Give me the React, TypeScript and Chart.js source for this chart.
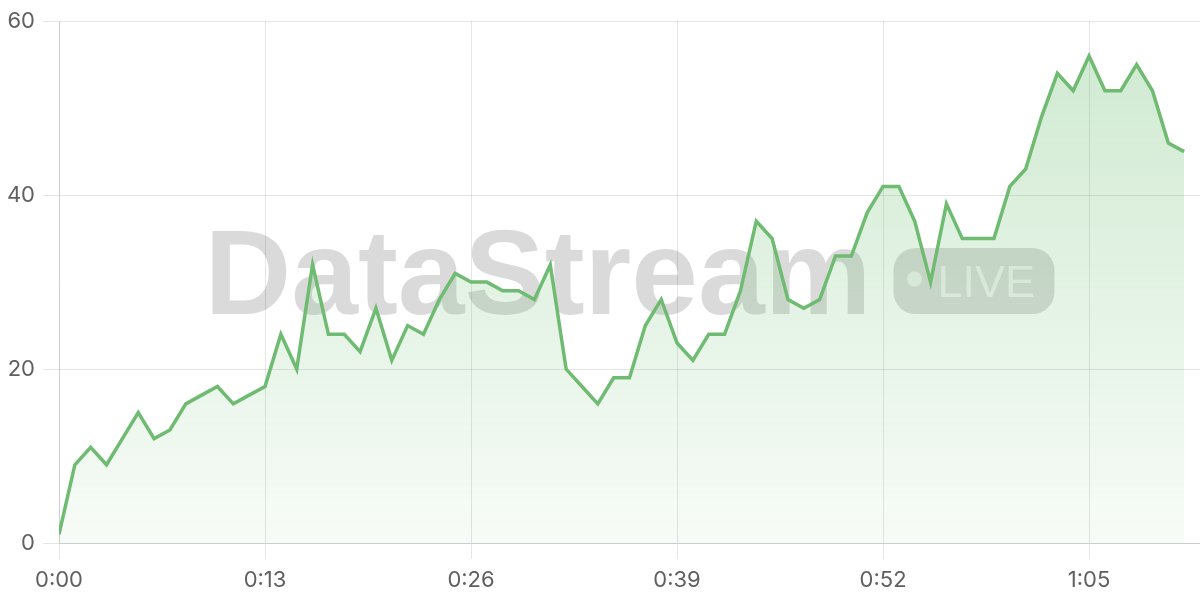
import React, { useEffect, useRef } from 'react';
import { Chart, registerables } from 'chart.js';

Chart.register(...registerables);

// ---- data ----
const elapsedSeconds = [
  0, 1, 2, 3, 4, 5, 6, 7, 8, 9, 10, 11, 12, 13, 14, 15, 16, 17, 18, 19, 20, 21, 22, 23,
  24, 25, 26, 27, 28, 29, 30, 31, 32, 33, 34, 35, 36, 37, 38, 39, 40, 41, 42, 43, 44, 45, 46, 47,
  48, 49, 50, 51, 52, 53, 54, 55, 56, 57, 58, 59, 60, 61, 62, 63, 64, 65, 66, 67, 68, 69, 70, 71,
];
const streamValues = [
  1, 9, 11, 9, 12, 15, 12, 13, 16, 17, 18, 16, 17, 18, 24, 20, 32, 24, 24, 22, 27, 21, 25, 24,
  28, 31, 30, 30, 29, 29, 28, 32, 20, 18, 16, 19, 19, 25, 28, 23, 21, 24, 24, 29, 37, 35, 28, 27,
  28, 33, 33, 38, 41, 41, 37, 30, 39, 35, 35, 35, 41, 43, 49, 54, 52, 56, 52, 52, 55, 52, 46, 45,
];
const xTickSeconds = [0, 13, 26, 39, 52, 65];
const yTickValues = [0, 20, 40, 60];
const xMaxSeconds = 72;
const watermarkTitle = 'DataStream';
const watermarkBadge = 'LIVE';

const formatTime = (s: number) => `${Math.floor(s / 60)}:${String(Math.round(s) % 60).padStart(2, '0')}`;

const LINE_COLOR = '#6fbb72';
const TICK_FONT = { family: 'Inter, "Liberation Sans", sans-serif', size: 22 };
const TICK_COLOR = '#606060';

function roundRectPath(ctx: CanvasRenderingContext2D, x: number, y: number, w: number, h: number, r: number) {
  ctx.beginPath();
  ctx.moveTo(x + r, y);
  ctx.arcTo(x + w, y, x + w, y + h, r);
  ctx.arcTo(x + w, y + h, x, y + h, r);
  ctx.arcTo(x, y + h, x, y, r);
  ctx.arcTo(x, y, x + w, y, r);
  ctx.closePath();
}

const watermarkPlugin = {
  id: 'watermark',
  beforeDatasetsDraw(chart: any) {
    const { ctx, chartArea } = chart;
    const cx = (chartArea.left + chartArea.right) / 2;
    const cy = (chartArea.top + chartArea.bottom) / 2;
    ctx.save();
    ctx.font = 'bold 120px "Liberation Sans", Arial, sans-serif';
    ctx.textAlign = 'left';
    ctx.textBaseline = 'alphabetic';
    const w1 = ctx.measureText(watermarkTitle).width;
    const gap = 22;
    const bw = 161;
    const bh = 66;
    const total = w1 + gap + bw;
    const x0 = cx - total / 2;
    ctx.fillStyle = 'rgba(0,0,0,0.145)';
    ctx.fillText(watermarkTitle, x0, cy + 32);

    const bx = x0 + w1 + gap;
    const by = cy - bh / 2 - 1;
    roundRectPath(ctx, bx, by, bw, bh, 22);
    ctx.fillStyle = 'rgba(0,0,0,0.14)';
    ctx.fill();

    ctx.fillStyle = 'rgba(255,255,255,0.62)';
    ctx.beginPath();
    ctx.arc(bx + 21, cy - 3, 7.5, 0, Math.PI * 2);
    ctx.fill();
    ctx.font = '45px "Liberation Sans", Arial, sans-serif';
    ctx.fillText(watermarkBadge, bx + 44, cy + 15);
    ctx.restore();
  },
};

export default function App() {
  const canvasRef = useRef<HTMLCanvasElement | null>(null);

  useEffect(() => {
    if (!canvasRef.current) return;
    const chart = new Chart(canvasRef.current, {
      type: 'line',
      data: {
        datasets: [
          {
            data: elapsedSeconds.map((s, i) => ({ x: s, y: streamValues[i] })),
            borderColor: LINE_COLOR,
            borderWidth: 3.5,
            pointRadius: 0,
            pointHoverRadius: 0,
            tension: 0,
            fill: 'origin',
            backgroundColor: (c: any) => {
              const area = c.chart.chartArea;
              if (!area) return 'rgba(102,187,106,0.15)';
              const g = c.chart.ctx.createLinearGradient(0, area.top, 0, area.bottom);
              g.addColorStop(0, 'rgba(102,187,106,0.32)');
              g.addColorStop(1, 'rgba(102,187,106,0.05)');
              return g;
            },
          },
        ],
      },
      options: {
        animation: false,
        responsive: true,
        maintainAspectRatio: false,
        layout: { padding: { top: 19, right: 0, left: 0, bottom: 0 } },
        plugins: { legend: { display: false }, tooltip: { enabled: false } },
        scales: {
          x: {
            type: 'linear',
            min: 0,
            max: xMaxSeconds,
            afterBuildTicks: (scale: any) => {
              scale.ticks = xTickSeconds.map((v) => ({ value: v }));
            },
            afterFit: (scale: any) => {
              scale.height = 57;
            },
            ticks: {
              callback: (v: any) => formatTime(Number(v)),
              font: TICK_FONT,
              color: TICK_COLOR,
              padding: 8,
              maxRotation: 0,
              autoSkip: false,
            },
            grid: { tickLength: 16 },
          },
          y: {
            min: 0,
            max: 60,
            afterBuildTicks: (scale: any) => {
              scale.ticks = yTickValues.map((v) => ({ value: v }));
            },
            afterFit: (scale: any) => {
              scale.width = 59;
            },
            ticks: { font: TICK_FONT, color: TICK_COLOR, padding: 8 },
            grid: { tickLength: 16 },
          },
        },
      },
      plugins: [watermarkPlugin],
    } as any);
    return () => chart.destroy();
  }, []);

  return (
    <div style={{ position: 'fixed', left: 0, top: 0, width: 1200, height: 600, background: '#fff' }}>
      <canvas ref={canvasRef} />
    </div>
  );
}
